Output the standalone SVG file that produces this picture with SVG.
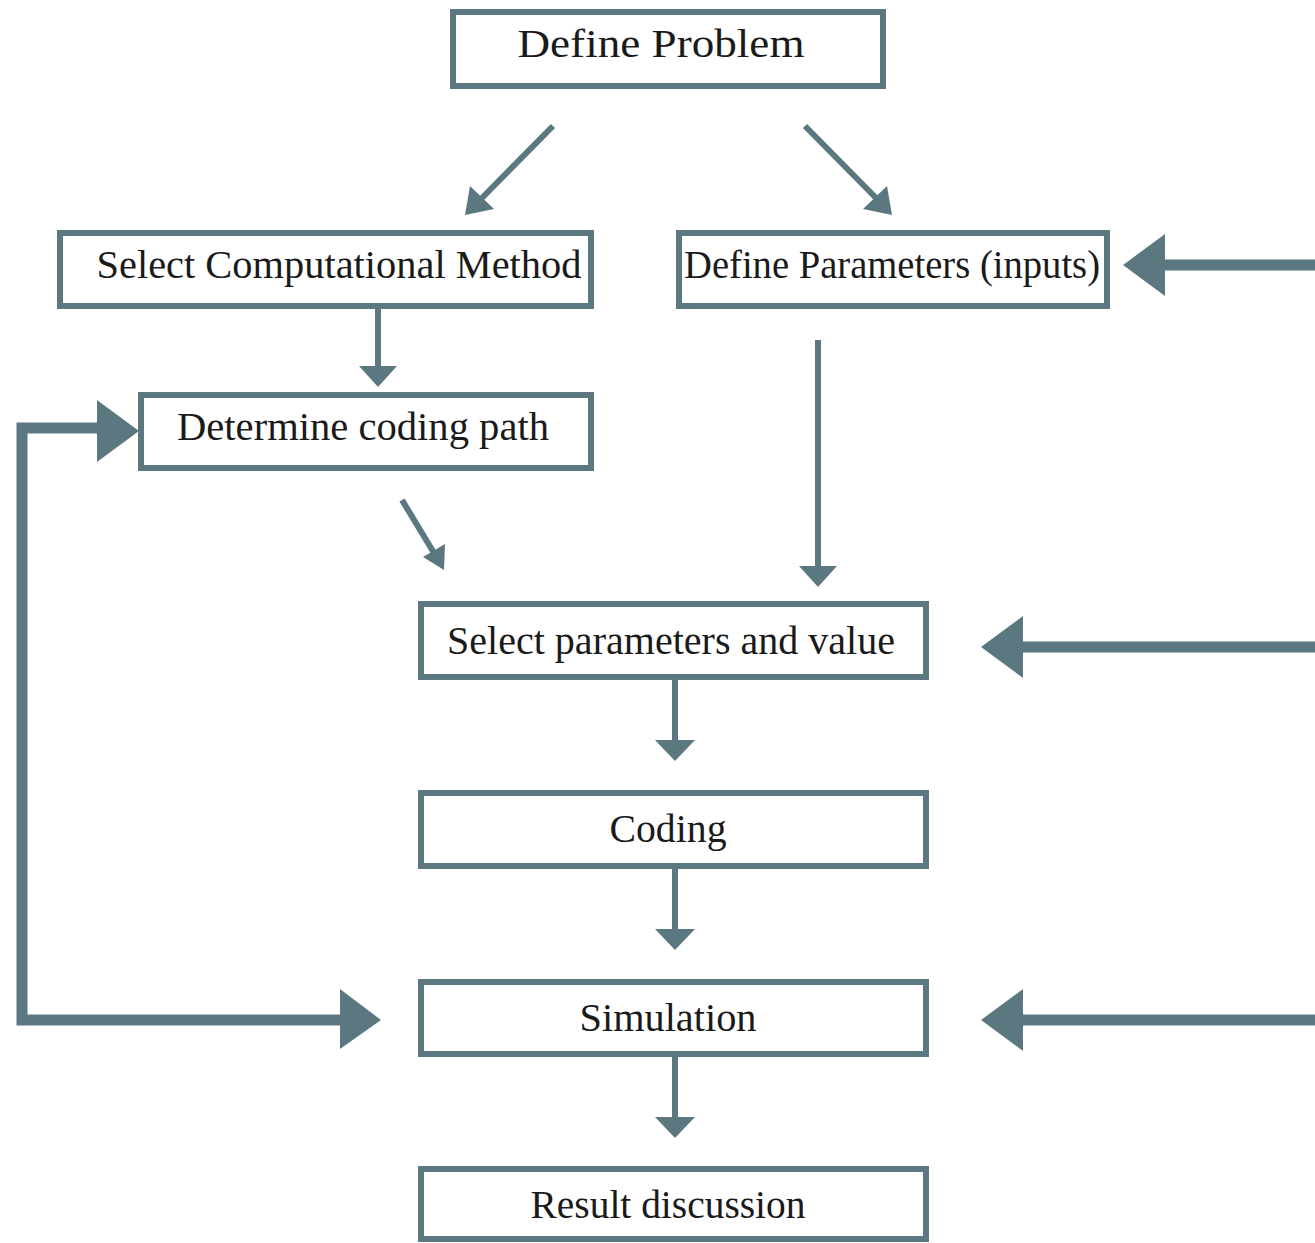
<svg xmlns="http://www.w3.org/2000/svg" width="1315" height="1243" viewBox="0 0 1315 1243">
<defs>
<style>
.box{fill:#ffffff;stroke:#5b7880;stroke-width:6}
.t{font-family:"Liberation Serif",serif;font-size:39px;fill:#1a1a1a;text-anchor:middle}
.thin{stroke:#5b7880;stroke-width:6;fill:none}
.thick{stroke:#5b7880;stroke-width:11;fill:none}
.head{fill:#5b7880}
</style>
</defs>
<rect width="1315" height="1243" fill="#ffffff"/>
<g id="connectors">
<line class="thin" x1="553" y1="126" x2="478" y2="202"/>
<polygon class="head" points="465,215 470,186 494,209"/>
<line class="thin" x1="805" y1="126" x2="880" y2="202"/>
<polygon class="head" points="892,215 887,186 863,209"/>
<line class="thin" x1="378" y1="307" x2="378" y2="368"/>
<polygon class="head" points="378,387 359,366 397,366"/>
<line class="thin" x1="402" y1="500" x2="434" y2="553"/>
<polygon class="head" points="444,570 445,544 423,557"/>
<line class="thin" x1="818" y1="340" x2="818" y2="568"/>
<polygon class="head" points="818,587 799,566 837,566"/>
<line class="thin" x1="675" y1="678" x2="675" y2="742"/>
<polygon class="head" points="675,761 655,740 695,740"/>
<line class="thin" x1="675" y1="867" x2="675" y2="931"/>
<polygon class="head" points="675,950 655,929 695,929"/>
<line class="thin" x1="675" y1="1055" x2="675" y2="1119"/>
<polygon class="head" points="675,1138 655,1117 695,1117"/>
<line class="thick" x1="1315" y1="265" x2="1160" y2="265"/>
<polygon class="head" points="1123,265 1165,234 1165,296"/>
<line class="thick" x1="1315" y1="647" x2="1018" y2="647"/>
<polygon class="head" points="981,647 1023,616 1023,678"/>
<line class="thick" x1="1315" y1="1020" x2="1018" y2="1020"/>
<polygon class="head" points="981,1020 1023,989 1023,1051"/>
<polyline class="thick" points="100,428 22,428 22,1020 345,1020"/>
<polygon class="head" points="139,431 97,400 97,462"/>
<polygon class="head" points="381,1020 340,989 340,1049"/>
</g>
<g id="define-problem"><rect class="box" x="453" y="12" width="430" height="74"/><text class="t" x="661" y="57" font-size="42" textLength="287" lengthAdjust="spacingAndGlyphs">Define Problem</text></g>
<g id="select-method"><rect class="box" x="60" y="233" width="531" height="73"/><text class="t" x="339" y="278" textLength="485" lengthAdjust="spacingAndGlyphs">Select Computational Method</text></g>
<g id="define-parameters"><rect class="box" x="679" y="233" width="428" height="73"/><text class="t" x="892" y="278" textLength="416" lengthAdjust="spacingAndGlyphs">Define Parameters (inputs)</text></g>
<g id="determine-path"><rect class="box" x="141" y="395" width="450" height="73"/><text class="t" x="363" y="440" textLength="372" lengthAdjust="spacingAndGlyphs">Determine coding path</text></g>
<g id="select-parameters"><rect class="box" x="421" y="604" width="505" height="73"/><text class="t" x="671" y="654" textLength="448" lengthAdjust="spacingAndGlyphs">Select parameters and value</text></g>
<g id="coding"><rect class="box" x="421" y="793" width="505" height="73"/><text class="t" x="668" y="842" textLength="117" lengthAdjust="spacingAndGlyphs">Coding</text></g>
<g id="simulation"><rect class="box" x="421" y="982" width="505" height="72"/><text class="t" x="668" y="1031" textLength="177" lengthAdjust="spacingAndGlyphs">Simulation</text></g>
<g id="result-discussion"><rect class="box" x="421" y="1169" width="505" height="70"/><text class="t" x="668" y="1218" textLength="275" lengthAdjust="spacingAndGlyphs">Result discussion</text></g>
</svg>
